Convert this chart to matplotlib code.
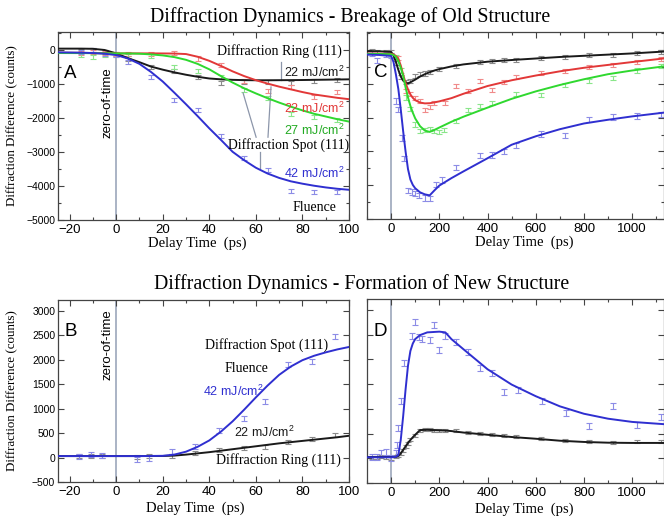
import matplotlib
matplotlib.use("Agg")
import matplotlib.pyplot as plt
from matplotlib.ticker import MultipleLocator

plt.rcParams['mathtext.fontset'] = 'custom'
plt.rcParams['mathtext.rm'] = 'Liberation Sans'
plt.rcParams['mathtext.it'] = 'Liberation Sans'

SERIF = 'Liberation Serif'
SANS = 'Liberation Sans'

# ---- panel A : breakage, first 100 ps ----
a_fit_x = [-25, -15, -10, -5, 0, 5, 10, 15, 20, 25, 30, 35, 40, 45, 50, 55, 60, 65, 70, 75, 80, 85, 90, 95, 100]
a_ring22_fit = [50, 50, 45, 10, -90, -230, -350, -480, -570, -650, -720, -780, -830, -855, -870, -878, -882, -882, -880, -878, -875, -870, -865, -860, -855]
a_spot22_fit = [-70, -75, -80, -85, -90, -90, -90, -90, -92, -95, -110, -190, -310, -460, -620, -760, -880, -980, -1070, -1150, -1230, -1300, -1350, -1400, -1440]
a_spot27_fit = [-80, -82, -85, -88, -90, -92, -100, -120, -150, -200, -280, -400, -560, -760, -950, -1120, -1270, -1410, -1540, -1660, -1770, -1870, -1950, -2030, -2100]
a_spot42_fit = [-60, -70, -80, -100, -140, -240, -400, -640, -920, -1250, -1590, -1940, -2300, -2640, -2990, -3240, -3460, -3630, -3760, -3860, -3930, -3990, -4040, -4080, -4110]

a_pts_x = [-15, -10, -5, 0, 5, 15, 25, 35, 45, 55, 65, 75, 85, 95]
a_ring22_pts = [-30, 0, -60, -120, -240, -480, -620, -780, -950, -940, -940, -950, -900, -880]
a_spot22_pts = [-80, -60, -90, -100, -110, -100, -90, -240, -420, -900, -1200, -1090, -1370, -1220]
a_spot27_pts = [-140, -200, -130, -150, -170, -170, -480, -620, -780, -1180, -1400, -1880, -1960, -2060]
a_spot42_pts = [-40, 0, -100, -150, -350, -775, -1460, -1755, -2520, -3170, -3530, -4140, -4170, -4170]

# ---- panel C : breakage, long delay ----
c_fit_x = [-100, -50, 0, 10, 20, 30, 40, 50, 60, 70, 80, 90, 100, 120, 140, 160, 180, 200, 250, 300, 400, 500, 600, 700, 800, 900, 1000, 1130]
c_ring22_fit = [-30, -30, -50, -150, -350, -580, -780, -900, -960, -980, -950, -910, -870, -780, -710, -650, -600, -560, -480, -420, -340, -290, -245, -200, -165, -130, -95, -40]
c_spot22_fit = [-100, -100, -110, -120, -170, -250, -450, -720, -970, -1160, -1310, -1410, -1480, -1550, -1575, -1570, -1545, -1515, -1420, -1290, -1060, -890, -750, -625, -520, -435, -350, -245]
c_spot27_fit = [-110, -110, -120, -140, -200, -330, -520, -760, -1100, -1400, -1650, -1850, -2020, -2250, -2380, -2420, -2360, -2290, -2120, -1970, -1700, -1440, -1220, -1030, -860, -710, -600, -480]
c_spot42_fit = [-130, -140, -170, -350, -720, -1150, -1750, -2400, -3000, -3520, -3830, -3990, -4090, -4210, -4270, -4300, -4150, -4010, -3790, -3590, -3200, -2800, -2550, -2340, -2170, -2060, -1960, -1850]

c_ring22_px = [-80, -60, -20, 0, 20, 40, 60, 80, 100, 120, 140, 160, 200, 270, 370, 420, 470, 520, 620, 720, 820, 920, 1020, 1120]
c_ring22_py = [-20, -40, -60, -60, -380, -800, -950, -920, -760, -700, -690, -640, -560, -470, -350, -330, -300, -290, -240, -200, -150, -130, -90, -40]
c_spot22_px = [30, 60, 80, 100, 120, 140, 160, 180, 225, 270, 320, 370, 420, 470, 520, 620, 720, 820, 920, 1020, 1120]
c_spot22_py = [-240, -1220, -1300, -1420, -1500, -1780, -1690, -1550, -1550, -1050, -1220, -910, -1180, -930, -800, -680, -610, -500, -440, -350, -250]
c_spot27_px = [0, 20, 40, 60, 80, 100, 120, 140, 160, 180, 200, 220, 270, 320, 370, 420, 520, 620, 720, 820, 920, 1020, 1120]
c_spot27_py = [-150, -200, -600, -1400, -1750, -2200, -2400, -2350, -2320, -2400, -2420, -2350, -2100, -1760, -1640, -1570, -1300, -1320, -1030, -900, -830, -600, -460]
c_spot42_px = [-80, -60, -20, 0, 20, 30, 45, 55, 70, 85, 100, 115, 140, 160, 185, 210, 270, 370, 420, 470, 520, 620, 720, 820, 920, 1020, 1120]
c_spot42_py = [-100, -300, -120, -160, -1500, -1750, -2600, -3200, -4150, -4200, -4250, -4300, -4380, -4400, -3980, -3850, -3480, -3120, -3100, -3000, -2830, -2480, -2520, -2050, -1980, -1950, -1900]

# ---- panel B : formation, first 100 ps ----
b_fit_x = [-25, -20, -10, 0, 10, 20, 25, 30, 35, 40, 45, 50, 55, 60, 65, 70, 75, 80, 85, 90, 95, 100]
b_spot42_fit = [30, 30, 30, 30, 30, 35, 60, 120, 220, 350, 530, 740, 980, 1230, 1470, 1690, 1860, 1990, 2080, 2150, 2210, 2260]
b_ring22_fit = [30, 30, 30, 30, 30, 32, 40, 60, 85, 110, 140, 170, 200, 230, 260, 290, 315, 340, 365, 390, 415, 445]

b_pts_x = [-16, -11, -6, 9, 14, 24, 34, 44, 55, 64, 74, 84, 94]
b_spot42_pts = [27, 60, 48, -34, -20, 116, 232, 560, 800, 1140, 1910, 1960, 2470]
b_ring22_pts = [30, 40, 30, 20, 30, 40, 90, 160, 190, 210, 310, 380, 460]

# ---- panel D : formation, long delay ----
d_fit_x = [-100, -50, 0, 20, 30, 40, 50, 60, 70, 80, 90, 100, 120, 150, 200, 225, 250, 300, 400, 500, 600, 700, 800, 900, 1000, 1130]
d_spot42_fit = [20, 20, 20, 30, 70, 370, 850, 1390, 1870, 2170, 2320, 2410, 2490, 2545, 2560, 2545, 2410, 2205, 1800, 1490, 1255, 1050, 900, 800, 735, 690]
d_ring22_fit = [25, 25, 25, 30, 50, 100, 170, 240, 310, 370, 425, 475, 570, 575, 565, 560, 550, 520, 475, 430, 395, 355, 330, 315, 310, 310]

d_spot42_px = [-80, -60, -40, -20, 0, 20, 25, 30, 40, 55, 85, 100, 115, 130, 160, 180, 200, 225, 270, 320, 370, 420, 470, 525, 625, 725, 820, 920, 1020, 1120]
d_spot42_py = [20, 30, 115, 135, 0, 100, 270, 610, 1150, 1920, 2475, 2760, 2460, 2420, 2400, 2700, 2190, 2475, 2360, 2150, 1830, 1720, 1340, 1380, 1150, 915, 645, 1050, 665, 830]
d_ring22_px = [-80, -60, -40, -20, 0, 20, 30, 40, 50, 60, 70, 80, 100, 120, 140, 160, 180, 200, 225, 270, 320, 370, 420, 470, 520, 620, 720, 820, 920, 1020, 1120]
d_ring22_py = [10, 20, 30, 20, 0, 30, 60, 100, 150, 240, 300, 380, 470, 570, 590, 580, 570, 560, 565, 560, 530, 510, 490, 470, 440, 400, 350, 330, 320, 330, 340]

BLUE, RED, GREEN, BLACK = '#2f2fd0', '#e23838', '#2fd82f', '#1a1a1a'
EBLUE, ERED, EGREEN, EBLACK = '#8c8ce6', '#f08a8a', '#8ae68a', '#8a8a8a'

W, H = 664, 516
fig = plt.figure(figsize=(W / 100, H / 100), dpi=100)


def box(l, t, r, b):
    return [l / W, 1 - b / H, (r - l) / W, (b - t) / H]


axA = fig.add_axes(box(58, 32, 349, 220))
axC = fig.add_axes(box(367, 32, 663.5, 219))
axB = fig.add_axes(box(58, 300, 349, 482))
axD = fig.add_axes(box(367, 299, 663.5, 483))


def style(ax, xmaj, xmin, ymaj, ymin, ylabels=True):
    for s in ax.spines.values():
        s.set_color('#444444')
        s.set_linewidth(0.9)
    ax.xaxis.set_major_locator(MultipleLocator(xmaj))
    ax.xaxis.set_minor_locator(MultipleLocator(xmin))
    ax.yaxis.set_major_locator(MultipleLocator(ymaj))
    if ymin:
        ax.yaxis.set_minor_locator(MultipleLocator(ymin))
    ax.tick_params(which='both', direction='in', top=True, right=True,
                   color='#444444', width=0.8)
    ax.tick_params(which='major', length=4)
    ax.tick_params(which='minor', length=2.5)
    ax.tick_params(axis='x', labelsize=9.5, pad=3)
    ax.tick_params(axis='y', labelsize=7.5, pad=2, labelleft=ylabels)
    for lab in ax.get_xticklabels() + ax.get_yticklabels():
        lab.set_fontfamily(SANS)
    ax.axvline(0, color='#a4aec0', lw=1.3, zorder=1)


def series(ax, fx, fy, px, py, err, c, ec):
    ax.errorbar(px, py, yerr=err, fmt='none', ecolor=ec, elinewidth=0.8,
                capsize=2, capthick=0.8, zorder=2)
    ax.plot(fx, fy, color=c, lw=1.4, zorder=3)


# panel A
series(axA, a_fit_x, a_ring22_fit, a_pts_x, a_ring22_pts, 60, BLACK, EBLACK)
series(axA, a_fit_x, a_spot22_fit, a_pts_x, a_spot22_pts, 60, RED, ERED)
series(axA, a_fit_x, a_spot27_fit, a_pts_x, a_spot27_pts, 60, GREEN, EGREEN)
series(axA, a_fit_x, a_spot42_fit, a_pts_x, a_spot42_pts, 60, BLUE, EBLUE)
axA.set_xlim(-25, 100)
axA.set_ylim(-5000, 540)

# panel C
series(axC, c_fit_x, c_ring22_fit, c_ring22_px, c_ring22_py, 60, BLACK, EBLACK)
series(axC, c_fit_x, c_spot22_fit, c_spot22_px, c_spot22_py, 60, RED, ERED)
series(axC, c_fit_x, c_spot27_fit, c_spot27_px, c_spot27_py, 60, GREEN, EGREEN)
series(axC, c_fit_x, c_spot42_fit, c_spot42_px, c_spot42_py, 80, BLUE, EBLUE)
axC.set_xlim(-100, 1130)
axC.set_ylim(-5000, 540)

# panel B
series(axB, b_fit_x, b_ring22_fit, b_pts_x, b_ring22_pts, 40, BLACK, EBLACK)
series(axB, b_fit_x, b_spot42_fit, b_pts_x, b_spot42_pts, 50, BLUE, EBLUE)
axB.set_xlim(-25, 100)
axB.set_ylim(-500, 3220)

# panel D
series(axD, d_fit_x, d_ring22_fit, d_ring22_px, d_ring22_py, 30, BLACK, EBLACK)
series(axD, d_fit_x, d_spot42_fit, d_spot42_px, d_spot42_py, 60, BLUE, EBLUE)
axD.set_xlim(-100, 1130)
axD.set_ylim(-500, 3220)

style(axA, 20, 10, 1000, 500)
style(axC, 200, 100, 1000, 500, ylabels=False)
style(axB, 20, 10, 500, None)
style(axD, 200, 100, 500, None, ylabels=False)

ylab = 'Diffraction Difference (counts)'
xlab = 'Delay Time  (ps)'
for ax, lx, ly in [(axA, 0.478, -0.09), (axC, 0.53, -0.09), (axB, 0.47, -0.105), (axD, 0.53, -0.105)]:
    ax.set_xlabel(xlab, family=SERIF, fontsize=10.5)
    ax.xaxis.set_label_coords(lx, ly)
for ax in (axA, axB):
    ax.set_ylabel(ylab, family=SERIF, fontsize=9.4)
    ax.yaxis.set_label_coords(-0.137, 0.5)

for ax, letter, y in [(axA, 'A', 0.78), (axC, 'C', 0.786), (axB, 'B', 0.827), (axD, 'D', 0.823)]:
    ax.text(0.022, y, letter, transform=ax.transAxes, family=SANS,
            fontsize=13.5, va='center', ha='left')

for ax, yc in [(axA, -1550), (axB, 2300)]:
    ax.text(-1.2, yc, 'zero-of-time', rotation=90, family=SANS, fontsize=9.5,
            ha='right', va='center')

unit = r' mJ/cm$^{2}$'
# annotations panel A
axA.text(70, -30, 'Diffraction Ring (111)', family=SERIF, fontsize=10, ha='center', va='center')
axA.text(85, -640, '22' + unit, family=SANS, fontsize=9, ha='center', va='center', color=BLACK)
axA.text(85, -1700, '22' + unit, family=SANS, fontsize=9, ha='center', va='center', color=RED)
axA.text(85, -2350, '27' + unit, family=SANS, fontsize=9, ha='center', va='center', color='#22aa22')
axA.text(74, -2800, 'Diffraction Spot (111)', family=SERIF, fontsize=9.8, ha='center', va='center')
axA.text(85, -3640, '42' + unit, family=SANS, fontsize=9, ha='center', va='center', color=BLUE)
axA.text(85, -4620, 'Fluence', family=SERIF, fontsize=10, ha='center', va='center')
lc = '#8c96aa'
axA.plot([71, 71], [-340, -880], color=lc, lw=0.9)
axA.plot([54.5, 60.1], [-1256, -2560], color=lc, lw=0.9)
axA.plot([66.5, 65.2], [-1080, -2560], color=lc, lw=0.9)
axA.plot([61.8, 61.8], [-2990, -3460], color=lc, lw=0.9)

# annotations panel B
axB.text(64.4, 2300, 'Diffraction Spot (111)', family=SERIF, fontsize=10, ha='center', va='center')
axB.text(55.8, 1828, 'Fluence', family=SERIF, fontsize=10, ha='center', va='center')
axB.text(50.2, 1357, '42' + unit, family=SANS, fontsize=9, ha='center', va='center', color=BLUE)
axB.text(63.5, 518, '22' + unit, family=SANS, fontsize=9, ha='center', va='center', color=BLACK)
axB.text(69.5, -55, 'Diffraction Ring (111)', family=SERIF, fontsize=10, ha='center', va='center')

fig.text(350 / W, 1 - 17 / H, 'Diffraction Dynamics - Breakage of Old Structure',
         family=SERIF, fontsize=14.3, ha='center', va='center')
fig.text(362 / W, 1 - 284 / H, 'Diffraction Dynamics - Formation of New Structure',
         family=SERIF, fontsize=14.3, ha='center', va='center')

fig.savefig('out.png', dpi=100)
